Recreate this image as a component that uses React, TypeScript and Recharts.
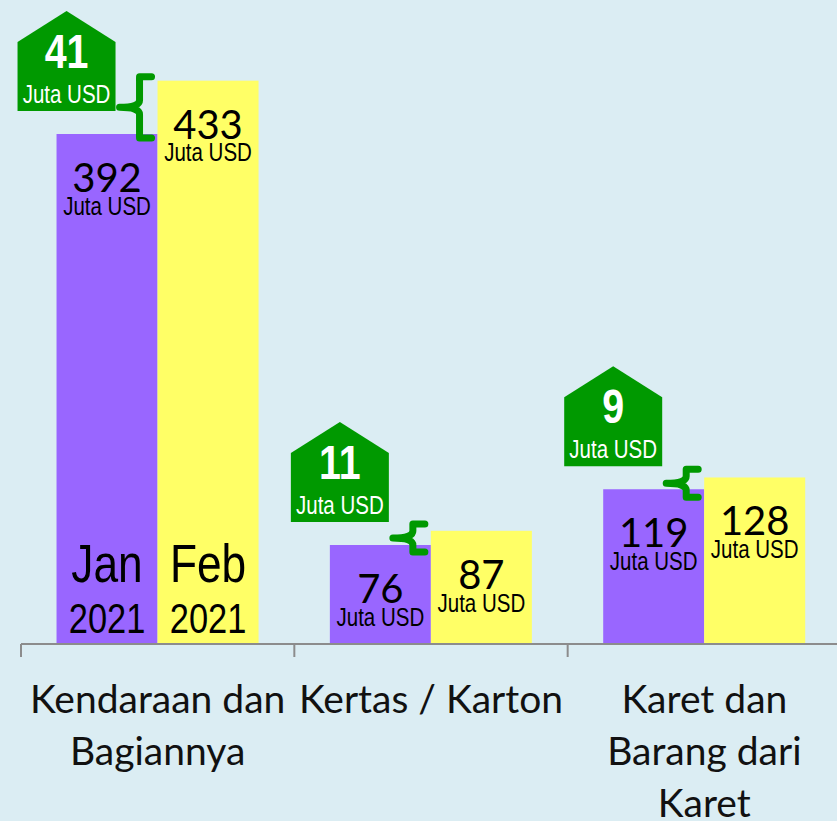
import { Bar, BarChart, LabelList, XAxis, YAxis } from 'recharts';

const categories = ['Kendaraan dan\nBagiannya', 'Kertas / Karton', 'Karet dan\nBarang dari\nKaret'];
const jan2021 = [392, 76, 119];
const feb2021 = [433, 87, 128];
const increase = [41, 11, 9];
const monthNames = ['Jan', 'Feb'];
const yearName = '2021';
const unit = 'Juta USD';

const data = categories.map((name, i) => ({
  name,
  jan: jan2021[i],
  feb: feb2021[i],
  up: increase[i],
}));

const W = 845;
const H = 821;
const AXIS_H = 177;
const MARGIN = { top: 0, right: 4, left: 21, bottom: 0 };
const BAND = (W - MARGIN.left - MARGIN.right) / categories.length;

const SANS = '"Liberation Sans", Arial, sans-serif';
const CALIBRI = 'Lato, "Open Sans", sans-serif';
const GREEN = '#009900';

// Arial Narrow is not installed: squeeze Liberation Sans horizontally instead
function Narrow({ x, y, size, fill = '#000', bold = false, children }: any) {
  return (
    <text
      transform={`translate(${x} ${y}) scale(0.82 1)`}
      textAnchor="middle"
      dominantBaseline="central"
      fontFamily={SANS}
      fontWeight={bold ? 'bold' : 'normal'}
      fontSize={size}
      fill={fill}
    >
      {children}
    </text>
  );
}

function ValueLabel(props: any) {
  const { x, y, width, height, value, index, month } = props;
  const cx = x + width / 2;
  const base = y + height;
  return (
    <g>
      <text x={cx} y={y + 43} textAnchor="middle" dominantBaseline="central"
        fontFamily={CALIBRI} fontSize={40} fill="#000">{value}</text>
      <Narrow x={cx} y={y + 72} size={25}>{unit}</Narrow>
      {index === 0 && (
        <g>
          <Narrow x={cx} y={base - 81} size={54}>{monthNames[month]}</Narrow>
          <Narrow x={cx} y={base - 26} size={42}>{yearName}</Narrow>
        </g>
      )}
    </g>
  );
}

// yellow bar + the green "house" and brace showing the increase
function FebShape(props: any) {
  const { x, y, width, height, fill, payload } = props;
  const base = y + height;
  const janTop = base - (height * payload.jan) / payload.feb;
  const px = x - width;

  const left = px - 39;
  const hw = 98;
  const hb = janTop - 23;
  const ht = hb - 100;
  const hs = ht + 31;

  const mid = (y + janTop) / 2;
  const half = Math.max((janTop - y) / 2 + 4, 14);
  const top = mid - half;
  const bot = mid + half;
  const vx = x - 18;
  const ex = x - 6;
  const nx = x - 38;
  const brace = `M ${ex} ${top} H ${vx} V ${mid - 7} Q ${vx} ${mid} ${nx} ${mid} Q ${vx} ${mid} ${vx} ${mid + 7} V ${bot} H ${ex}`;

  return (
    <g>
      <rect x={x} y={y} width={width} height={height} fill={fill} />
      <path d={brace} fill="none" stroke={GREEN} strokeWidth={7} strokeLinejoin="round" strokeLinecap="round" />
      <polygon
        points={`${left},${hb} ${left},${hs} ${left + hw / 2},${ht} ${left + hw},${hs} ${left + hw},${hb}`}
        fill={GREEN}
      />
      <Narrow x={left + hw / 2} y={ht + 40} size={48} bold fill="#fff">{payload.up}</Narrow>
      <Narrow x={left + hw / 2} y={hb - 17} size={25} fill="#fff">{unit}</Narrow>
    </g>
  );
}

function CategoryTick(props: any) {
  const { x, y, payload } = props;
  const lines = String(payload.value).split('\n');
  const edge = x - BAND / 2;
  return (
    <g>
      <line x1={edge} y1={y} x2={edge} y2={y + 13} stroke="#8c8c8c" strokeWidth={2} />
      {lines.map((line, i) => (
        <text key={i} x={x} y={y + 54 + i * 52} textAnchor="middle" dominantBaseline="central"
          fontFamily={CALIBRI} fontSize={39} fill="#111">{line}</text>
      ))}
    </g>
  );
}

export default function App() {
  return (
    <div
      style={{
        position: 'fixed',
        left: 0,
        top: 0,
        width: 837,
        height: 821,
        overflow: 'hidden',
        background: '#dbedf3',
      }}
    >
      <BarChart width={W} height={H} data={data} margin={MARGIN} barCategoryGap="13%" barGap={0}>
        <YAxis hide domain={[0, 495]} />
        <XAxis
          dataKey="name"
          height={AXIS_H}
          interval={0}
          tickLine={false}
          tickSize={0}
          tickMargin={0}
          axisLine={{ stroke: '#8c8c8c', strokeWidth: 2 }}
          tick={<CategoryTick />}
        />
        <Bar dataKey="jan" fill="#9966ff" isAnimationActive={false}>
          <LabelList dataKey="jan" content={(p: any) => <ValueLabel {...p} month={0} />} />
        </Bar>
        <Bar dataKey="feb" fill="#ffff66" isAnimationActive={false} shape={<FebShape />}>
          <LabelList dataKey="feb" content={(p: any) => <ValueLabel {...p} month={1} />} />
        </Bar>
      </BarChart>
    </div>
  );
}
